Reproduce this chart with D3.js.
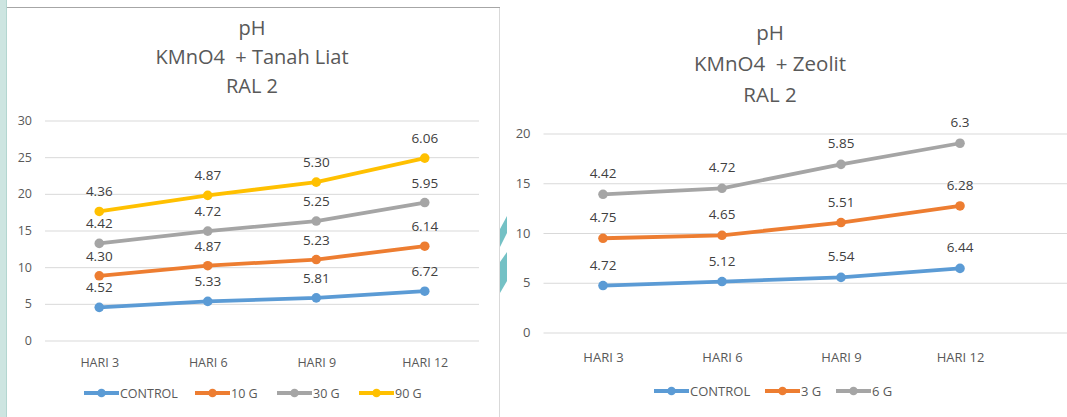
<!DOCTYPE html>
<html><head><meta charset="utf-8">
<script src="https://cdn.jsdelivr.net/npm/d3@7"></script>
<style>
html,body{margin:0;padding:0;background:#fff;}
svg{display:block;font-family:"Open Sans",sans-serif;}
text{white-space:pre;}
</style></head>
<body><svg id="c" width="1067" height="417"></svg>
<script>
const categories = ["HARI 3","HARI 6","HARI 9","HARI 12"];
// Left chart: KMnO4 + Tanah Liat
const leftSeriesNames = ["CONTROL","10 G","30 G","90 G"];
const leftControl = [4.52,5.33,5.81,6.72];
const left10G = [4.30,4.87,5.23,6.14];
const left30G = [4.42,4.72,5.25,5.95];
const left90G = [4.36,4.87,5.30,6.06];
const leftLabels = [["4.52","5.33","5.81","6.72"],["4.30","4.87","5.23","6.14"],["4.42","4.72","5.25","5.95"],["4.36","4.87","5.30","6.06"]];
const leftTicks = [0,5,10,15,20,25,30];
const leftTitle = ["pH","KMnO4  + Tanah Liat","RAL 2"];
// Right chart: KMnO4 + Zeolit
const rightSeriesNames = ["CONTROL","3 G","6 G"];
const rightControl = [4.72,5.12,5.54,6.44];
const right3G = [4.75,4.65,5.51,6.28];
const right6G = [4.42,4.72,5.85,6.3];
const rightLabels = [["4.72","5.12","5.54","6.44"],["4.75","4.65","5.51","6.28"],["4.42","4.72","5.85","6.3"]];
const rightTicks = [0,5,10,15,20];
const rightTitle = ["pH","KMnO4  + Zeolit","RAL 2"];

const colors = ["#5B9BD5","#ED7D31","#A5A5A5","#FFC000"];
const svg = d3.select("#c");

// decorations
svg.append("rect").attr("x",0).attr("y",0).attr("width",6).attr("height",417).attr("fill","#cde5e1");
svg.append("line").attr("x1",6.5).attr("x2",6.5).attr("y1",0).attr("y2",417).attr("stroke","#b3d6d0");
svg.append("line").attr("x1",7).attr("x2",500).attr("y1",7.5).attr("y2",7.5).attr("stroke","#a6a6a6").attr("stroke-width",1);
svg.append("line").attr("x1",499.5).attr("x2",499.5).attr("y1",8).attr("y2",417).attr("stroke","#d9d9d9");
svg.append("path").attr("d","M500,229 L507,216 L507,233 L500,247 Z").attr("fill","#74c1c5");
svg.append("path").attr("d","M500,262 L507,252 L507,281 L500,293 Z").attr("fill","#74c1c5");

function drawChart(cfg){
  const g = svg.append("g");
  const keys = cfg.names;
  const rows = categories.map((c,i)=>{const o={cat:c}; keys.forEach((k,j)=>o[k]=cfg.values[j][i]); return o;});
  const stacked = d3.stack().keys(keys)(rows);
  const x = d3.scalePoint().domain(categories).range([cfg.x0,cfg.x1]).padding(0.5);
  const y = d3.scaleLinear().domain([0,d3.max(cfg.ticks)]).range([cfg.yb,cfg.yt]);

  // titles
  cfg.title.forEach((t,i)=>{
    g.append("text").attr("x",cfg.tx).attr("y",cfg.ty+i*cfg.tl).attr("text-anchor","middle")
      .attr("font-size",cfg.tfs).attr("fill","#595959").text(t);
  });
  // gridlines + y labels
  const yAxis = d3.axisLeft(y).tickValues(cfg.ticks).tickSize(-(cfg.gx1-cfg.x0)).tickPadding(cfg.tp);
  const ya = g.append("g").attr("transform",`translate(${cfg.x0},0)`).call(yAxis);
  ya.select(".domain").remove();
  ya.selectAll(".tick line").attr("stroke","#d9d9d9").attr("stroke-width",1);
  ya.selectAll(".tick text").attr("fill","#595959").attr("font-size",cfg.afs).attr("font-family","'Open Sans',sans-serif");
  // x labels
  const xAxis = d3.axisBottom(x).tickSize(0).tickPadding(cfg.xp);
  const xa = g.append("g").attr("transform",`translate(0,${cfg.yb})`).call(xAxis);
  xa.select(".domain").remove();
  xa.selectAll(".tick text").attr("fill","#595959").attr("font-size",cfg.afs).attr("font-family","'Open Sans',sans-serif");

  const line = d3.line().x(d=>x(d.data.cat)).y(d=>y(d[1]));
  stacked.forEach((s,j)=>{
    g.append("path").datum(s).attr("d",line).attr("fill","none").attr("stroke",colors[j])
      .attr("stroke-width",cfg.lw).attr("stroke-linejoin","round").attr("stroke-linecap","round");
    g.selectAll(null).data(s).enter().append("circle")
      .attr("cx",d=>x(d.data.cat)).attr("cy",d=>y(d[1])).attr("r",cfg.mr).attr("fill",colors[j]);
    g.selectAll(null).data(s).enter().append("text")
      .attr("x",d=>x(d.data.cat)).attr("y",d=>y(d[1])-cfg.lo).attr("text-anchor","middle")
      .attr("font-size",cfg.lfs).attr("fill","#404040").text((d,i)=>cfg.labels[j][i]);
  });
  // legend
  keys.forEach((k,j)=>{
    const lx = cfg.legX[j];
    g.append("line").attr("x1",lx).attr("x2",lx+35).attr("y1",cfg.legY).attr("y2",cfg.legY)
      .attr("stroke",colors[j]).attr("stroke-width",cfg.lw);
    g.append("circle").attr("cx",lx+17.5).attr("cy",cfg.legY).attr("r",cfg.mr-0.5).attr("fill",colors[j]);
    g.append("text").attr("x",lx+36).attr("y",cfg.legY+4.5).attr("font-size",cfg.lgfs).attr("fill","#595959").text(k);
  });
}

drawChart({names:leftSeriesNames, values:[leftControl,left10G,left30G,left90G], labels:leftLabels, ticks:leftTicks,
  title:leftTitle, x0:45, x1:479, gx1:479, yb:340.5, yt:120.5, tx:252, ty:35, tl:28.8, tfs:20, afs:12.5, lgfs:12.5, lfs:13.5,
  tp:13, xp:18, lw:3.8, mr:4.8, lo:15, legX:[84,195,277,359], legY:393});
drawChart({names:rightSeriesNames, values:[rightControl,right3G,right6G], labels:rightLabels, ticks:rightTicks,
  title:rightTitle, x0:543.5, x1:1019.5, gx1:1067, yb:332.5, yt:133.5, tx:770, ty:40, tl:31, tfs:20.5, afs:13, lgfs:13, lfs:13.5,
  tp:13, xp:20, lw:3.8, mr:4.8, lo:16, legX:[654,765,836], legY:391});
</script></body></html>
